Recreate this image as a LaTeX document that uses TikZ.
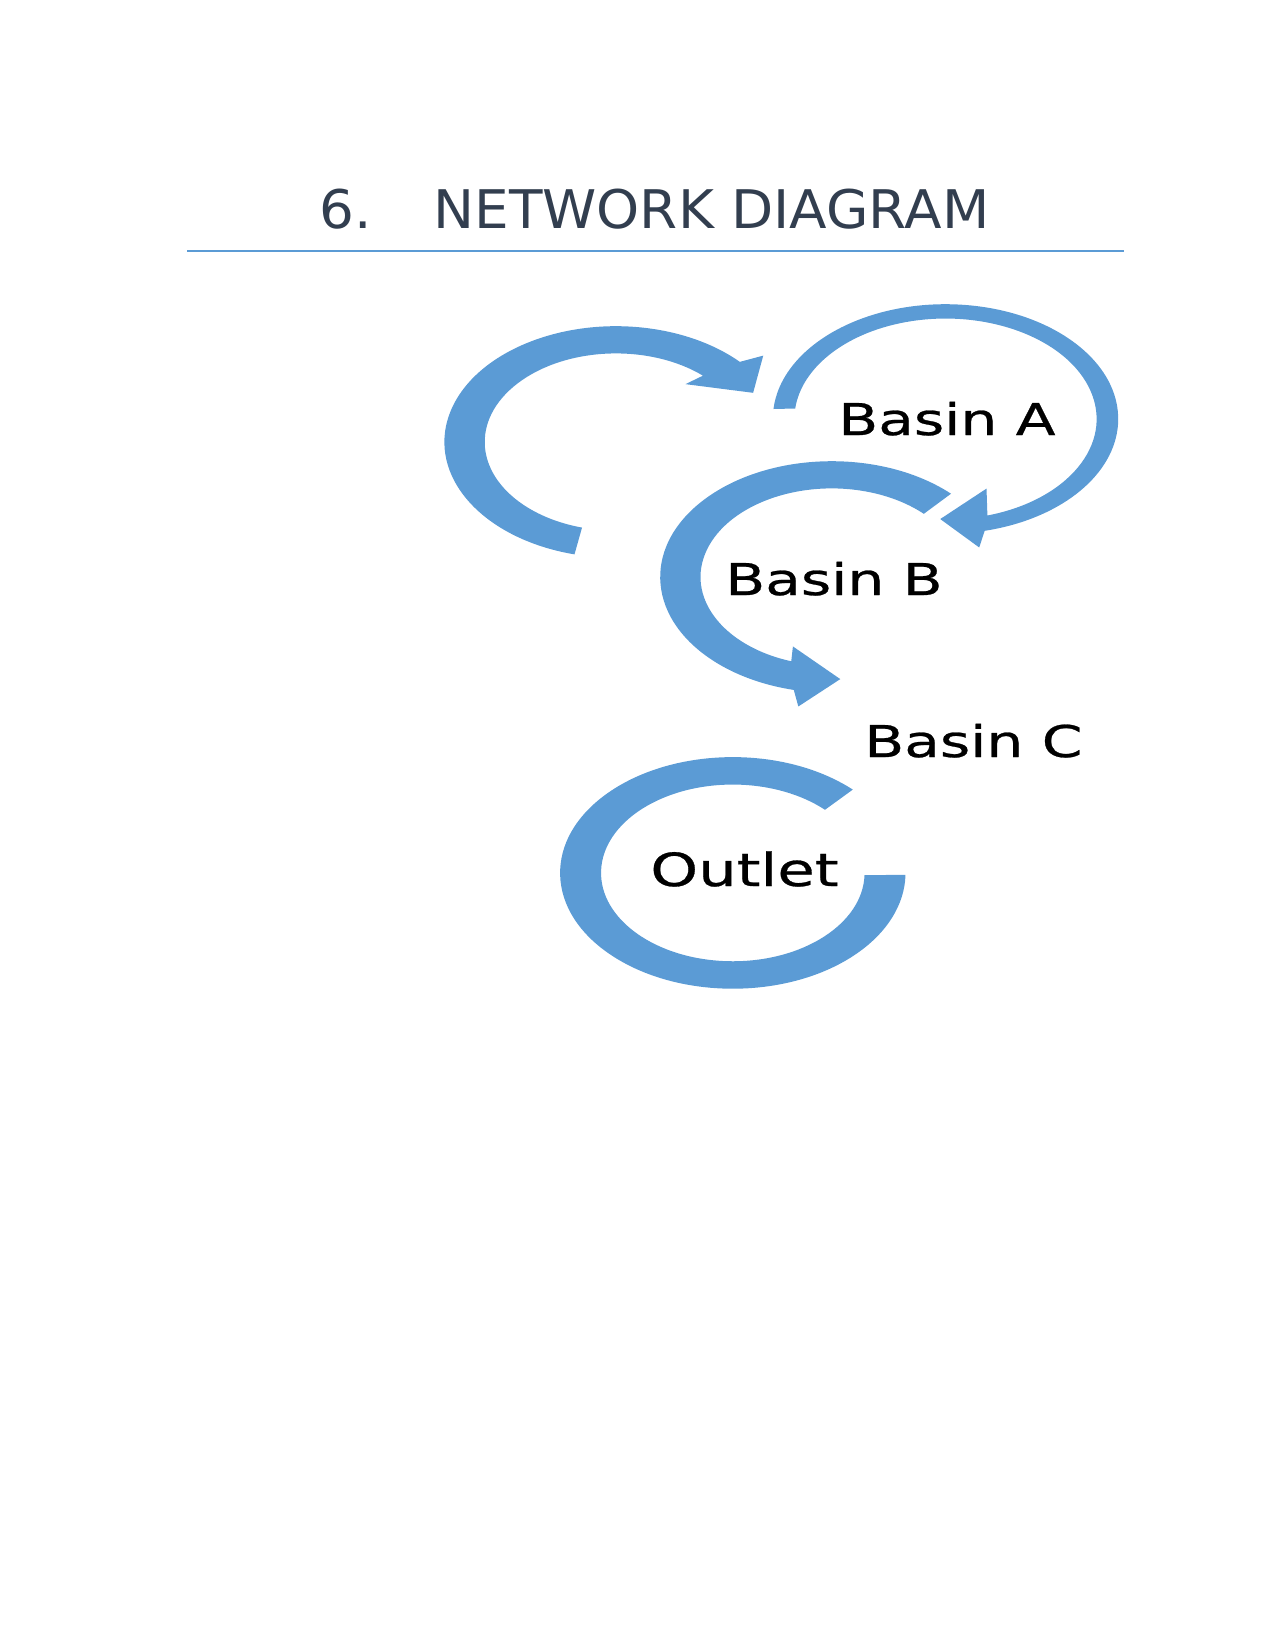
\documentclass[tikz,border=0pt]{standalone}
\usepackage{fontspec}
\newfontfamily\headfont[FakeStretch=1.03]{DejaVu Sans}
\newfontfamily\labelfont[FakeStretch=1.33, FakeBold=0.6]{DejaVu Sans}
\usepackage{tikz}
\definecolor{flowblue}{RGB}{91,155,213}
\definecolor{headslate}{RGB}{50,62,79}

\begin{document}
\begin{tikzpicture}[x=0.02cm, y=-0.02cm,
    flow/.style={fill=flowblue},
    head/.style={font=\headfont\fontsize{30.3}{36}\selectfont, text=headslate, anchor=base west, inner sep=0pt},
    basin/.style={font=\labelfont\fontsize{24.9}{30}\selectfont, anchor=base west, inner sep=0pt}]
  \useasboundingbox (0,0) rectangle (1275,1651);

  % heading and rule
  \node[head] (num) at (319,228) {6.};
  \node[head] (heading) at (433,228) {NETWORK DIAGRAM};
  \coordinate (ruleL) at (187,251);
  \coordinate (ruleR) at (1124,251);
  \draw[flowblue, line width=1.1pt] (ruleL) -- (ruleR);

  % loop into Basin A
  \begin{scope}[shift={(616,442)}, xscale=171.6, yscale=115.8]
    \fill[flow] (104:1) arc[start angle=104, end angle=316.2, radius=1]
      -- (319:1.137) -- (332:0.905) -- (309:0.643) -- (311.5:0.765)
      arc[start angle=311.5, end angle=105, radius=0.765] -- cycle;
  \end{scope}

  % Basin A to Basin B
  \begin{scope}[shift={(945.5,419)}, xscale=172.7, yscale=114.8]
    \fill[flow] (185:1) arc[start angle=185, end angle=436.9, radius=1]
      -- (440.1:1.136) -- (452:0.872) -- (428.6:0.651) -- (433.9:0.875)
      arc[start angle=433.9, end angle=186, radius=0.875] -- cycle;
  \end{scope}

  % Basin B to Basin C
  \begin{scope}[shift={(831.8,577)}, xscale=171.6, yscale=115.8]
    \fill[flow] (314:1) arc[start angle=314, end angle=102.8, radius=1]
      -- (99.9:1.135) -- (86.8:0.883) -- (110.7:0.641) -- (108:0.765)
      arc[start angle=108, end angle=314.5, radius=0.765] -- cycle;
  \end{scope}

  % round the outlet
  \begin{scope}[shift={(732.8,872.9)}, xscale=172.7, yscale=115.8]
    \fill[flow] (314:1) arc[start angle=314, end angle=1, radius=1]
      -- (1.4:0.763)
      arc[start angle=1.4, end angle=314.4, radius=0.763] -- cycle;
  \end{scope}

  % labels
  \node[basin] (basinA) at (838,435) {Basin A};
  \node[basin] (basinB) at (725,595) {Basin B};
  \node[basin] (basinC) at (864,757) {Basin C};
  \node[basin, font=\labelfont\fontsize{26}{30}\selectfont] (outlet) at (650,886) {Outlet};
\end{tikzpicture}
\end{document}
